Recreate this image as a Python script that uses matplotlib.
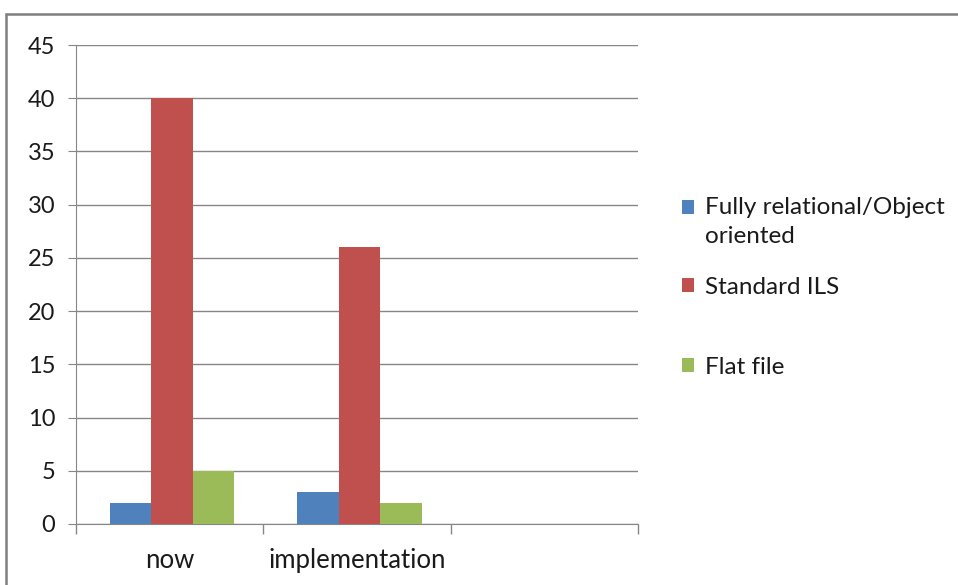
import matplotlib
matplotlib.use("Agg")
import matplotlib.pyplot as plt
import numpy as np
from matplotlib.patches import Rectangle
from matplotlib.legend_handler import HandlerPatch
from matplotlib.container import BarContainer

categories = ["now", "implementation", ""]
series_names = ["Fully relational/Object\noriented", "Standard ILS", "Flat file"]
fully_relational = [2, 3, np.nan]
standard_ils = [40, 26, np.nan]
flat_file = [5, 2, np.nan]
yticks = [0, 5, 10, 15, 20, 25, 30, 35, 40, 45]

colors = ["#4F81BD", "#C0504D", "#9BBB59"]
grid_c = "#868686"
txt_c = "#1a1a1a"
fs = 17

plt.rcParams['font.family'] = ['Lato', 'DejaVu Sans']

fig = plt.figure(figsize=(9.58, 5.85), dpi=100)
ax = fig.add_axes([76/958, 1-524/585, (638-76)/958, (524-45)/585])

x = np.arange(len(categories))
w = 0.222
handles = []
for i, (vals, c) in enumerate(zip([fully_relational, standard_ils, flat_file], colors)):
    b = ax.bar(x + (i-1)*w + 0.013, vals, width=w, color=c, label=series_names[i], zorder=3)
    handles.append(b)

ax.set_xlim(-0.5, 2.5)
ax.set_ylim(0, 45)
ax.set_yticks(yticks)
ax.yaxis.grid(True, color=grid_c, linewidth=1.0, zorder=0)
ax.tick_params(axis='y', length=6, color=grid_c, labelsize=fs, pad=9, labelcolor=txt_c)
ax.set_xticks(x)
ax.set_xticklabels(categories)
ax.tick_params(axis='x', which='major', length=0, labelsize=18.5, pad=17, labelcolor=txt_c)
ax.set_xticks([-0.5, 0.5, 1.5, 2.5], minor=True)
ax.tick_params(axis='x', which='minor', length=7, color=grid_c, width=1)
for s in ['top', 'right']:
    ax.spines[s].set_visible(False)
for s in ['left', 'bottom']:
    ax.spines[s].set_color(grid_c)


def raised_square(shift):
    def f(legend, orig_handle, xdescent, ydescent, width, height, fontsize):
        return Rectangle((-xdescent, -ydescent + shift), width, height)
    return f


def update_first(legend_handle, orig_handle):
    legend_handle.update_from(orig_handle.patches[0])

# legend entries positioned individually (Excel spacing)
ys = [222, 287, 367]
shifts = [11.0, 0, 0]
for h, name, yy, sh in zip(handles, series_names, ys, shifts):
    lg = fig.legend([h], [name], loc='center left', bbox_to_anchor=(682/958, 1-yy/585),
                    frameon=False, fontsize=17.5, handlelength=0.5, handleheight=0.5,
                    handletextpad=0.45, labelcolor=txt_c, borderaxespad=0, borderpad=0,
                    handler_map={BarContainer: HandlerPatch(patch_func=raised_square(sh),
                                                            update_func=update_first)})
    for t in lg.get_texts():
        t.set_linespacing(1.45)

fig.patches.append(Rectangle((6/958, -0.1), 1.2, 1-14/585+0.1, transform=fig.transFigure,
                             fill=False, edgecolor="#7f7f7f", linewidth=1.8))

fig.savefig("out.png", dpi=100)
